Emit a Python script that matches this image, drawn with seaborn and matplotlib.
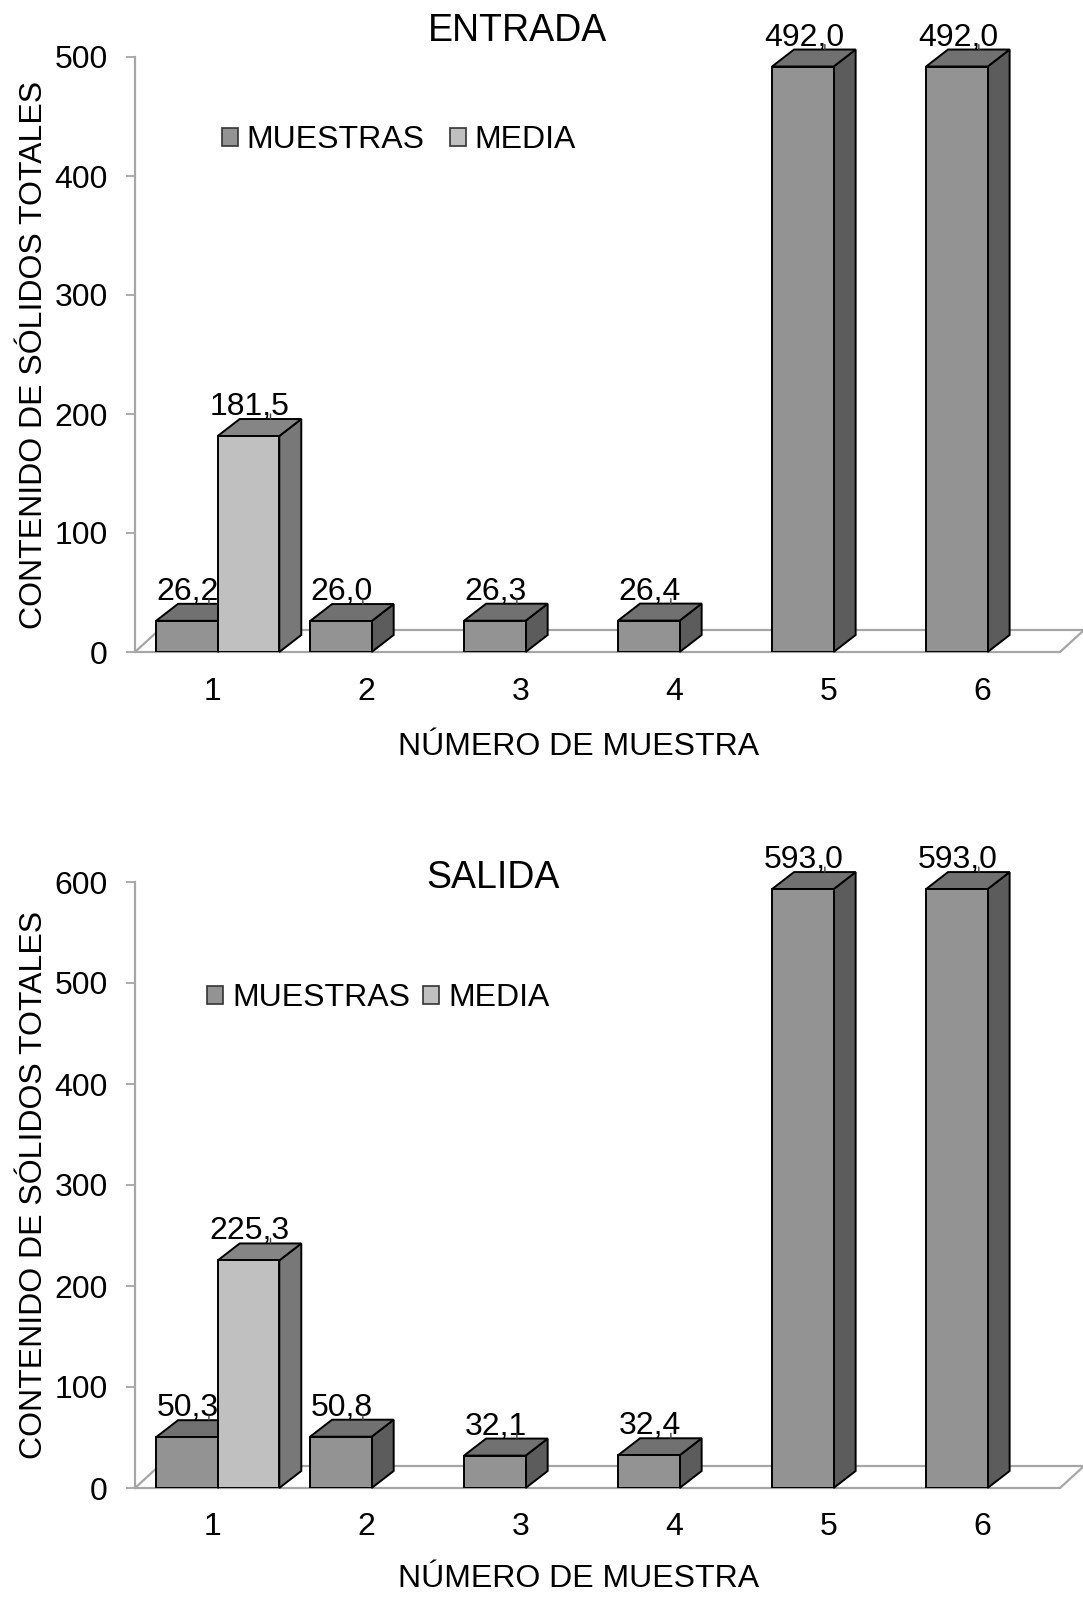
import numpy as np
import pandas as pd
import matplotlib
matplotlib.use("Agg")
import matplotlib.pyplot as plt
import matplotlib.transforms as mtransforms
from matplotlib.patches import Polygon, Patch
from matplotlib.lines import Line2D
import seaborn as sns

# ---- data ----
categorias = ["1", "2", "3", "4", "5", "6"]
series = ["MUESTRAS", "MEDIA"]

entrada_muestras = [26.2, 26.0, 26.3, 26.4, 492.0, 492.0]
entrada_media = [181.5, None, None, None, None, None]

salida_muestras = [50.3, 50.8, 32.1, 32.4, 593.0, 593.0]
salida_media = [225.3, None, None, None, None, None]

# ---- style ----
sns.set_style("white")
plt.rcParams["font.family"] = ["Liberation Sans", "DejaVu Sans"]
plt.rcParams["text.color"] = "black"
plt.rcParams["axes.labelcolor"] = "black"

FS = 23
GRIS_EJE = "#a6a6a6"
colores = {"MUESTRAS": "#939393", "MEDIA": "#c0c0c0"}
caras = {  # (top face, side face)
    "MUESTRAS": ("#717171", "#5c5c5c"),
    "MEDIA": ("#858585", "#787878"),
}
BAR_DX, BAR_DY = 22, 17      # bar depth in pixels
FLOOR_DX, FLOOR_DY = 24, 22  # floor depth in pixels

W, H = 1083, 1597
fig = plt.figure(figsize=(W / 100, H / 100), dpi=100)


def axes_px(left, right, top, bottom):
    return fig.add_axes([left / W, 1 - bottom / H, (right - left) / W, (bottom - top) / H])


def comma(v):
    return f"{v:.1f}".replace(".", ",")


def panel(ax, titulo, muestras, media, ymax, title_pos, legend_pos, colsp, xlabel_y, xtick_pad):
    filas = []
    for cat, m, md in zip(categorias, muestras, media):
        filas.append({"muestra": cat, "serie": "MUESTRAS", "valor": m})
        if md is not None:
            filas.append({"muestra": cat, "serie": "MEDIA", "valor": md})
    df = pd.DataFrame(filas)

    sns.barplot(data=df, x="muestra", y="valor", hue="serie", order=categorias,
                hue_order=series, palette=colores, saturation=1, dodge=True,
                width=0.8, edgecolor="black", linewidth=1.4, errorbar=None,
                legend=False, ax=ax)

    xlim = (-0.537, 5.47)
    ylim = (0, ymax)
    ax.set_xlim(*xlim)
    ax.set_ylim(*ylim)

    # extruded faces of each column
    barras = [p for p in ax.patches if np.isfinite(p.get_height()) and p.get_height() > 0]
    barras.sort(key=lambda p: p.get_x())
    ident = mtransforms.IdentityTransform()
    for k, p in enumerate(barras):
        x0, w, h = p.get_x(), p.get_width(), p.get_height()
        fc = np.array(p.get_facecolor()[:3])
        serie = "MEDIA" if fc.mean() > 0.65 else "MUESTRAS"
        top_c, side_c = caras[serie]
        (X0, Y0) = ax.transData.transform((x0, 0))
        (X1, Y1) = ax.transData.transform((x0 + w, h))
        z = 3 + 2 * k
        p.set_zorder(z + 1)
        lado = Polygon([(X1, Y0), (X1, Y1), (X1 + BAR_DX, Y1 + BAR_DY), (X1 + BAR_DX, Y0 + BAR_DY)],
                       closed=True, facecolor=side_c, edgecolor="black", linewidth=1.4,
                       transform=ident, zorder=z, clip_on=False)
        techo = Polygon([(X0, Y1), (X1, Y1), (X1 + BAR_DX, Y1 + BAR_DY), (X0 + BAR_DX, Y1 + BAR_DY)],
                        closed=True, facecolor=top_c, edgecolor="black", linewidth=1.4,
                        transform=ident, zorder=z, clip_on=False)
        ax.add_patch(lado)
        ax.add_patch(techo)

        # value label with its short leader
        xc = x0 + w / 2
        ax.annotate(comma(h), xy=(xc, h), xytext=(1, BAR_DY + 4), textcoords="offset pixels",
                    ha="center", va="baseline", fontsize=FS, zorder=60, annotation_clip=False)
        back = mtransforms.offset_copy(ax.transData, fig=fig, x=BAR_DX, y=BAR_DY, units="dots")
        ax.annotate("", xy=(xc, h), xycoords=back, xytext=(0, 5), textcoords="offset pixels",
                    arrowprops=dict(arrowstyle="-", color="#404040", lw=1, shrinkA=0, shrinkB=0),
                    zorder=60, annotation_clip=False)

    # floor outline
    (FX0, FY0) = ax.transData.transform((xlim[0], 0))
    (FX1, _) = ax.transData.transform((xlim[1], 0))
    piso = [
        [(FX0, FY0), (FX1, FY0)],
        [(FX0 + FLOOR_DX, FY0 + FLOOR_DY), (FX1 + FLOOR_DX, FY0 + FLOOR_DY)],
        [(FX0, FY0), (FX0 + FLOOR_DX, FY0 + FLOOR_DY)],
        [(FX1, FY0), (FX1 + FLOOR_DX, FY0 + FLOOR_DY)],
    ]
    for seg in piso:
        (xa, ya), (xb, yb) = seg
        ax.add_line(Line2D([xa, xb], [ya, yb], color=GRIS_EJE, lw=1.6,
                           transform=ident, zorder=1, clip_on=False))

    ax.set_xlim(*xlim)
    ax.set_ylim(*ylim)

    for s in ["top", "right", "bottom"]:
        ax.spines[s].set_visible(False)
    ax.spines["left"].set_color(GRIS_EJE)
    ax.spines["left"].set_linewidth(1.6)

    ax.set_yticks(range(0, ymax + 1, 100))
    ax.tick_params(axis="y", length=6.5, width=1.3, color=GRIS_EJE, direction="out",
                   pad=13, labelsize=FS, labelcolor="black", left=True)
    ax.tick_params(axis="x", length=0, pad=xtick_pad, labelsize=FS, labelcolor="black")
    # category numbers sit slightly left of the column centres
    shift = mtransforms.ScaledTranslation(-5 / 100, 0, fig.dpi_scale_trans)
    for lbl in ax.get_xticklabels():
        lbl.set_transform(lbl.get_transform() + shift)

    ax.set_xlabel("NÚMERO DE MUESTRA", fontsize=FS)
    ax.xaxis.set_label_coords(0.479, xlabel_y)
    ax.set_ylabel("CONTENIDO DE SÓLIDOS TOTALES", fontsize=FS)
    ax.yaxis.set_label_coords(-0.0934, 0.5)

    ax.text(title_pos[0], title_pos[1], titulo, transform=ax.transAxes,
            ha="center", va="center", fontsize=27)

    handles = [Patch(facecolor=colores[s], edgecolor="#333333", linewidth=1.2) for s in series]
    ax.legend(handles, series, loc="center left", bbox_to_anchor=legend_pos, frameon=False,
              ncol=2, handlelength=0.5, handleheight=0.5, handletextpad=0.28,
              columnspacing=colsp, borderpad=0, borderaxespad=0, fontsize=FS)


ax1 = axes_px(135, 1060, 57, 652)
panel(ax1, "ENTRADA", entrada_muestras, entrada_media, 500,
      title_pos=(0.414, 1.0437), legend_pos=(0.094, 0.8605), colsp=0.78,
      xlabel_y=-0.1345, xtick_pad=18)

ax2 = axes_px(135, 1060, 882, 1488)
panel(ax2, "SALIDA", salida_muestras, salida_media, 600,
      title_pos=(0.387, 1.0066), legend_pos=(0.078, 0.8086), colsp=0.42,
      xlabel_y=-0.1254, xtick_pad=17)

fig.savefig("out.png", dpi=100)
